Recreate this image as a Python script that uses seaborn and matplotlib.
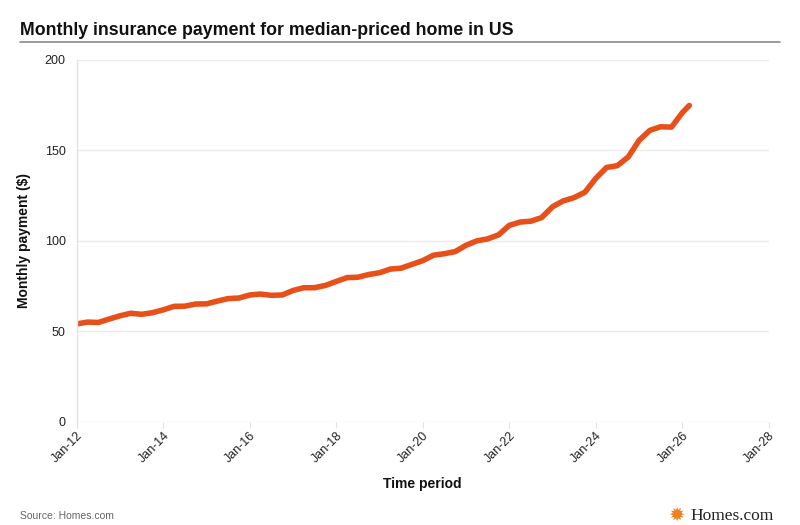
import matplotlib
matplotlib.use("Agg")
import matplotlib.pyplot as plt
import matplotlib.dates as mdates
from matplotlib.lines import Line2D
import pandas as pd
import seaborn as sns


# ___ Data (quarterly) ___

periods = list(pd.date_range("2012-01-01", "2026-01-01", freq="QS")) + [pd.Timestamp("2026-03-01")]
payments = [
    54.0, 55.0, 54.8, 56.7,      # 2012
    58.5, 59.9, 59.3, 60.2,      # 2013
    61.8, 63.7, 63.8, 65.0,      # 2014
    65.1, 66.6, 68.0, 68.3,      # 2015
    70.0, 70.5, 69.8, 70.0,      # 2016
    72.5, 74.0, 74.0, 75.3,      # 2017
    77.5, 79.6, 79.8, 81.3,      # 2018
    82.3, 84.3, 84.8, 86.9,      # 2019
    89.0, 92.0, 92.8, 94.0,      # 2020
    97.5, 99.9, 101.0, 103.2,    # 2021
    108.5, 110.3, 110.8, 112.8,  # 2022
    118.8, 122.0, 123.8, 126.8,  # 2023
    134.5, 140.5, 141.5, 146.3,  # 2024
    155.5, 161.0, 163.0, 162.8,  # 2025
    170.8, 174.8,                # 2026
]
y_ticks = [0, 50, 100, 150, 200]

title = "Monthly insurance payment for median-priced home in US"
line_color = "#E8501A"

# ___ Plot ___

sns.set_theme(style="whitegrid")
plt.rcParams['font.family'] = ['Liberation Sans', 'DejaVu Sans']

fig = plt.figure(figsize=(8, 5.25), dpi=100)
ax = fig.add_axes([0.096, 0.197, 0.865, 0.689])

sns.lineplot(x=periods, y=payments, color=line_color, linewidth=4, ax=ax)

ax.set_ylim(0, 200)
ax.set_yticks(y_ticks)
ax.set_xlim(pd.Timestamp("2012-01-01"), pd.Timestamp("2028-01-01"))
ax.xaxis.set_major_locator(mdates.YearLocator(2, month=1, day=1))
ax.xaxis.set_major_formatter(mdates.DateFormatter("%b-%y"))

ax.grid(axis='y', color='#ebebeb', linewidth=1)
ax.grid(axis='x', visible=False)
for side in ['top', 'right', 'bottom']:
    ax.spines[side].set_visible(False)
ax.spines['left'].set_color('#e3e3e3')
ax.spines['left'].set_linewidth(1)

ax.tick_params(axis='y', labelsize=9, colors='#222222', length=0, pad=8)
ax.tick_params(axis='x', labelsize=9, colors='#222222', length=4, width=0.8, pad=2,
               color='#e3e3e3', bottom=True)
for lbl in ax.get_xticklabels():
    lbl.set_rotation(45)
    lbl.set_ha('right')
    lbl.set_rotation_mode('anchor')

ax.set_xlabel("Time period", fontsize=10, fontweight='bold', color='#111111', labelpad=8)
ax.set_ylabel("Monthly payment ($)", fontsize=10, fontweight='bold', color='#111111', labelpad=10)

# ___ Title, rule, footer ___

fig.text(0.025, 0.941, title, fontsize=12.8, fontweight='bold', color='#111111', va='center')
fig.add_artist(Line2D([0.025, 0.975], [0.92, 0.92], color='#8a8a8a', linewidth=1.2))
fig.text(0.025, 0.017, "Source: Homes.com", fontsize=7.5, color='#666666', va='center')
fig.text(0.846, 0.019, "\u2739", fontsize=14, color='#F07F1E', va='center', ha='center',
         family=['DejaVu Sans'])
fig.text(0.967, 0.017, "Homes.com", fontsize=12.5, color='#222222', va='center', ha='right',
         family=['Liberation Serif', 'DejaVu Serif'])

fig.savefig("out.png", dpi=100)
